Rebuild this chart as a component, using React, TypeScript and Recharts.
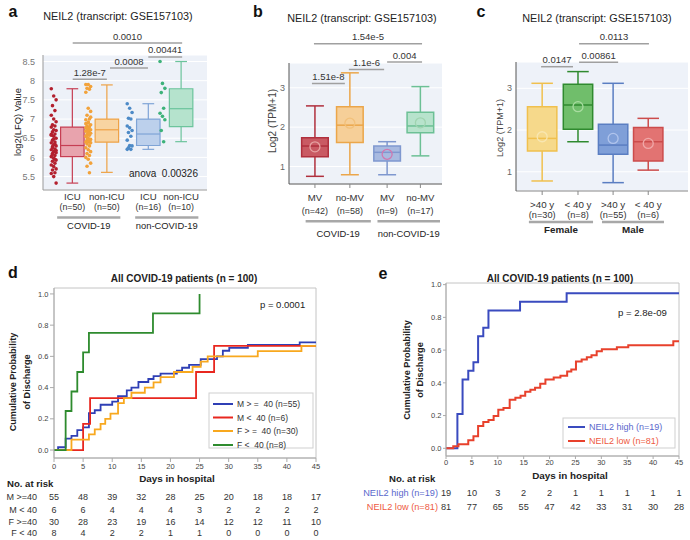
import React from 'react';
import {
  ComposedChart, LineChart, Line, Scatter, XAxis, YAxis, CartesianGrid,
  ReferenceLine, ReferenceArea,
} from 'recharts';

const FONT = '"Liberation Sans", Arial, Helvetica, sans-serif';

// ---------------- Panel a data ----------------
const aLabels = ['ICU', 'non-ICU', 'ICU', 'non-ICU'];
const aCounts = ['(n=50)', '(n=50)', '(n=16)', '(n=10)'];
const aGroups = ['COVID-19', 'non-COVID-19'];
// [min, q1, median, q3, max]
const aStats = [
  [5.33, 6.02, 6.31, 6.79, 7.79],
  [5.61, 6.4, 6.72, 7.0, 7.89],
  [6.21, 6.31, 6.61, 7.0, 7.4],
  [6.41, 6.8, 7.27, 7.79, 8.5],
];
const aCovidIcu = [7.79, 7.6, 7.5, 7.35, 7.22, 7.1, 7.0, 6.93, 6.85, 6.82, 6.79, 6.72, 6.7, 6.67, 6.61, 6.58, 6.55, 6.5, 6.45, 6.4, 6.38, 6.33, 6.3, 6.28, 6.22, 6.2, 6.15, 6.12, 6.1, 6.05, 6.02, 5.98, 5.93, 5.9, 5.85, 5.8, 5.76, 5.7, 5.67, 5.6, 5.58, 5.5, 5.33, 6.25, 6.35, 6.6, 6.48, 6.18, 6.08, 5.95];
const aCovidNonIcu = [7.9, 7.9, 7.85, 7.8, 7.78, 7.7, 7.28, 7.2, 7.1, 7.0, 6.98, 6.9, 6.85, 6.82, 6.8, 6.77, 6.75, 6.72, 6.7, 6.7, 6.68, 6.65, 6.63, 6.6, 6.58, 6.55, 6.5, 6.47, 6.45, 6.42, 6.4, 6.4, 6.38, 6.35, 6.3, 6.25, 6.2, 6.15, 6.1, 6.05, 6.0, 5.95, 5.85, 5.77, 5.6, 6.88, 6.92, 7.05, 6.52, 6.62];
const aNonCovidIcu = [7.4, 7.28, 7.17, 7.02, 7.0, 6.82, 6.77, 6.7, 6.65, 6.55, 6.45, 6.31, 6.3, 6.25, 6.21, 6.21];
const aNonCovidNonIcu = [8.5, 7.93, 7.8, 7.69, 7.28, 7.15, 7.07, 6.98, 6.7, 6.41];
const aBracketText = ['1.28e-7', '0.0008', '0.00441', '0.0010'];

// ---------------- Panel b data ----------------
const bLabels = ['MV', 'no-MV', 'MV', 'no-MV'];
const bCounts = ['(n=42)', '(n=58)', '(n=9)', '(n=17)'];
const bGroups = ['COVID-19', 'non-COVID-19'];
const bStats = [
  [0.75, 1.25, 1.52, 1.73, 2.54],
  [0.79, 1.61, 2.05, 2.52, 3.38],
  [0.79, 1.14, 1.36, 1.52, 1.63],
  [1.27, 1.86, 2.03, 2.38, 3.03],
];
const bMeans = [1.5, 2.1, 1.31, 2.11];
const bBracketText = ['1.51e-8', '1.1e-6', '0.004', '1.54e-5'];

// ---------------- Panel c data ----------------
const cLabels = ['>40 y', '< 40 y', '>40 y', '< 40 y'];
const cCounts = ['(n=30)', '(n=8)', '(n=55)', '(n=6)'];
const cGroups = ['Female', 'Male'];
const cStats = [
  [0.78, 1.5, 1.8, 2.56, 3.12],
  [1.72, 2.02, 2.6, 3.1, 3.4],
  [0.74, 1.42, 1.64, 2.14, 3.12],
  [1.04, 1.26, 1.72, 2.06, 2.28],
];
const cMeans = [1.84, 2.56, 1.8, 1.68];
const cBracketText = ['0.0147', '0.00861', '0.0113'];

// ---------------- Panel d data ----------------
const dNames = ['M > =  40 (n=55)', 'M <  40 (n=6)', 'F > =  40 (n=30)', 'F <  40 (n=8)'];
const dColors = ['#2f3fb5', '#e8271f', '#f8a81e', '#2e8b2e'];
const dMge40 = [
  [0, 0], [0.7, 0.018], [2, 0.073], [3, 0.091], [4, 0.127], [5, 0.145], [6, 0.236], [7, 0.255], [8, 0.29],
  [10, 0.31], [11, 0.345], [12.5, 0.382], [13.3, 0.4], [14.5, 0.436], [16.2, 0.455], [17.1, 0.473], [18.3, 0.49],
  [21.1, 0.509], [22, 0.527], [23.2, 0.545], [25.2, 0.582], [28, 0.6], [29, 0.636], [30.1, 0.655], [33.3, 0.673],
  [42.2, 0.69], [45, 0.69],
];
const dMlt40 = [[0, 0], [5, 0.167], [6.2, 0.333], [24.4, 0.5], [27.5, 0.667], [45, 0.667]];
const dFge40 = [
  [0, 0], [3, 0.067], [6, 0.1], [7, 0.133], [8, 0.167], [8.8, 0.2], [9.7, 0.233], [11, 0.3], [12, 0.333],
  [13.3, 0.367], [15.6, 0.4], [17.1, 0.433], [18.3, 0.467], [20.6, 0.5], [23.8, 0.533], [25.2, 0.567],
  [26.4, 0.6], [35, 0.633], [42.5, 0.667], [45, 0.667],
];
const dFlt40 = [[0, 0], [2, 0.25], [3, 0.375], [4, 0.5], [5, 0.625], [6, 0.75], [17, 0.875], [25, 1.0]];
const dRiskLabels = ['M >=40', 'M < 40', 'F >=40', 'F < 40'];
const dRisk = [
  [55, 48, 39, 32, 28, 25, 20, 18, 18, 17],
  [6, 6, 4, 4, 4, 3, 2, 2, 2, 2],
  [30, 28, 23, 19, 16, 14, 12, 12, 11, 10],
  [8, 4, 2, 2, 1, 1, 0, 0, 0, 0],
];

// ---------------- Panel e data ----------------
const eNames = ['NEIL2 high (n=19)', 'NEIL2 low (n=81)'];
const eColors = ['#3a4bbf', '#e8412c'];
const eTextColors = ['#5a68cc', '#ee5a42'];
const eHigh = [[0, 0], [2.2, 0.21], [3.2, 0.42], [4.3, 0.474], [5.3, 0.526], [6.2, 0.684], [7.2, 0.737], [8.2, 0.842], [14.3, 0.895], [23.3, 0.947], [45, 0.947]];
const eLow = [
  [0, 0], [1.4, 0.012], [2.4, 0.025], [4.3, 0.049], [5.3, 0.074], [6.2, 0.136], [7.2, 0.16], [8.2, 0.173],
  [9.2, 0.198], [10.1, 0.235], [11.1, 0.247], [12.3, 0.296], [13.4, 0.309], [14.4, 0.321], [15.3, 0.346],
  [16.3, 0.358], [17.2, 0.37], [18.2, 0.395], [19.2, 0.42], [20.8, 0.432], [22.1, 0.444], [23.4, 0.469],
  [24.2, 0.481], [25.1, 0.531], [26.2, 0.543], [27.2, 0.556], [28.1, 0.568], [29.1, 0.593], [30.1, 0.605],
  [33, 0.617], [35.2, 0.63], [43.9, 0.654], [45, 0.654],
];
const eRisk = [
  [19, 10, 3, 2, 2, 1, 1, 1, 1, 1],
  [81, 77, 65, 55, 47, 42, 33, 31, 30, 28],
];
const dayTicks = [0, 5, 10, 15, 20, 25, 30, 35, 40, 45];
const probTicks = [0, 0.2, 0.4, 0.6, 0.8, 1.0];

// ---------------- styles / layout ----------------
const aStyle = [
  { fill: '#e8a3ad', stroke: '#c63e53', dot: '#b3202e' },
  { fill: '#f8d4a2', stroke: '#eea246', dot: '#f2a23a' },
  { fill: '#bcd0ec', stroke: '#7fa4d6', dot: '#4d8ac7' },
  { fill: '#b5e3cd', stroke: '#6cc49c', dot: '#3db27a' },
];
const bStyle = [
  { fill: '#c95a63', stroke: '#b0303d', mean: '#e6a2a2' },
  { fill: '#f6cf98', stroke: '#eba64a', mean: '#f2c07a' },
  { fill: '#a8bae0', stroke: '#7f98cf', mean: '#cf78b0' },
  { fill: '#b7e3cc', stroke: '#6cc095', mean: '#9fd4b0' },
];
const cStyle = [
  { fill: '#f6d98b', stroke: '#f0c04e', mean: '#f8e6b0' },
  { fill: '#70be6b', stroke: '#2f8a2f', mean: '#a8dca0' },
  { fill: '#7f9fd8', stroke: '#5a7ec2', mean: '#b0c4ec' },
  { fill: '#e27372', stroke: '#cc4c4c', mean: '#f0a8a8' },
];

const aPos = [0.85, 1.85, 3.05, 4.0];
const bPos = [0.78, 1.83, 2.95, 3.95];
const cPos = [0.73, 1.73, 2.71, 3.69];

const jitter = [-0.07, 0.0, 0.07, -0.035, 0.035];
const strip = (vals: number[], pos: number) => vals.map((v, i) => ({ x: pos - 0.54 + jitter[i % 5], y: v }));

function boxElements(id: string, pos: number, s: number[], half: number, cap: number, fill: string, stroke: string, sw: number) {
  const [mn, q1, md, q3, mx] = s;
  const common = { stroke, strokeWidth: sw, ifOverflow: 'visible' as const };
  return [
    <ReferenceLine key={id + 'w1'} segment={[{ x: pos, y: q3 }, { x: pos, y: mx }]} {...common} />,
    <ReferenceLine key={id + 'w2'} segment={[{ x: pos, y: mn }, { x: pos, y: q1 }]} {...common} />,
    <ReferenceLine key={id + 'c1'} segment={[{ x: pos - cap, y: mx }, { x: pos + cap, y: mx }]} {...common} />,
    <ReferenceLine key={id + 'c2'} segment={[{ x: pos - cap, y: mn }, { x: pos + cap, y: mn }]} {...common} />,
    <ReferenceArea key={id + 'b'} x1={pos - half} x2={pos + half} y1={q1} y2={q3} fill={fill} fillOpacity={1} stroke={stroke} strokeWidth={sw} ifOverflow="visible" />,
    <ReferenceLine key={id + 'm'} segment={[{ x: pos - half, y: md }, { x: pos + half, y: md }]} {...common} />,
  ];
}

function bracket(id: string, x1: number, x2: number, y: number, text: string) {
  return (
    <ReferenceLine
      key={id}
      segment={[{ x: x1, y }, { x: x2, y }]}
      stroke="#a0a0a0"
      strokeWidth={1.5}
      ifOverflow="visible"
      label={{ value: text, position: 'top', offset: 3.5, fontSize: 9.5, fill: '#333' }}
    />
  );
}

function groupLine(id: string, x1: number, x2: number, y: number, text: string, offset: number, bold: boolean) {
  return (
    <ReferenceLine
      key={id}
      segment={[{ x: x1, y }, { x: x2, y }]}
      stroke="#a8a8a8"
      strokeWidth={2.5}
      ifOverflow="visible"
      label={{ value: text, position: 'bottom', offset, fontSize: bold ? 9.8 : 9.4, fill: '#222', fontWeight: bold ? 'bold' : 'normal' }}
    />
  );
}

const BoxTick = (props: any) => {
  const { x, y, index, labels, counts, base, d1, d2, fs1, fs2 } = props;
  const y0 = y - base;
  return (
    <g>
      <text x={x} y={y0 + d1} textAnchor="middle" dominantBaseline="central" fontSize={fs1} fill="#333">{labels[index]}</text>
      <text x={x} y={y0 + d2} textAnchor="middle" dominantBaseline="central" fontSize={fs2} fill="#333">{counts[index]}</text>
    </g>
  );
};

const RiskTick = (props: any) => {
  const { x, y, index, rows, rowY, labels, labelColors, labelGap, fs } = props;
  return (
    <g>
      {rows.map((r: number[], k: number) => (
        <text key={k} x={x} y={y + rowY[k]} textAnchor="middle" dominantBaseline="central" fontSize={fs} fill="#333">{r[index]}</text>
      ))}
      {index === 0 && labels.map((l: string, k: number) => (
        <text key={'l' + k} x={x - labelGap} y={y + rowY[k]} textAnchor="end" dominantBaseline="central" fontSize={fs} fill={labelColors[k]}>{l}</text>
      ))}
    </g>
  );
};

const meanShape = (color: string) => (p: any) => (
  <circle cx={p.cx} cy={p.cy} r={5} fill="none" stroke={color} strokeWidth={1.3} />
);
const dotShape = (color: string) => (p: any) => <circle cx={p.cx} cy={p.cy} r={1.8} fill={color} />;

const toPts = (arr: number[][]) => arr.map(([day, p]) => ({ day, p }));

function PanelA() {
  return (
    <ComposedChart width={230} height={250} margin={{ top: 55, right: 23, left: 0, bottom: 0 }}>
      <CartesianGrid vertical={false} stroke="#ffffff" fill="#edf1f8" fillOpacity={1} />
      <XAxis type="number" dataKey="x" domain={[0, 4.75]} allowDataOverflow ticks={aPos} interval={0} height={60}
        tickLine={false} tickSize={0} tickMargin={0} axisLine={{ stroke: '#999' }}
        tick={<BoxTick labels={aLabels} counts={aCounts} base={0} d1={6.7} d2={17.3} fs1={9.6} fs2={8.8} />} />
      <YAxis type="number" dataKey="y" domain={[5.15, 8.67]} allowDataOverflow ticks={[5.5, 6, 6.5, 7, 7.5, 8, 8.5]}
        interval={0} width={43} tickLine={false} axisLine={{ stroke: '#999' }} tick={{ fontSize: 9, fill: '#777' }} />
      {aStats.map((s, i) => boxElements('a' + i, aPos[i], s, 0.34, 0.17, aStyle[i].fill, aStyle[i].stroke, 1.2))}
      <Scatter data={strip(aCovidIcu, aPos[0])} shape={dotShape(aStyle[0].dot)} isAnimationActive={false} />
      <Scatter data={strip(aCovidNonIcu, aPos[1])} shape={dotShape(aStyle[1].dot)} isAnimationActive={false} />
      <Scatter data={strip(aNonCovidIcu, aPos[2])} shape={dotShape(aStyle[2].dot)} isAnimationActive={false} />
      <Scatter data={strip(aNonCovidNonIcu, aPos[3])} shape={dotShape(aStyle[3].dot)} isAnimationActive={false} />
      {bracket('ab0', 0.86, 1.85, 8.04, aBracketText[0])}
      {bracket('ab1', 1.94, 3.04, 8.33, aBracketText[1])}
      {bracket('ab2', 3.05, 4.03, 8.62, aBracketText[2])}
      {bracket('ab3', 0.86, 4.03, 8.98, aBracketText[3])}
      {groupLine('ag0', 0.41, 2.24, 4.43, aGroups[0], 5, false)}
      {groupLine('ag1', 2.67, 4.5, 4.43, aGroups[1], 5, false)}
    </ComposedChart>
  );
}

function PanelB() {
  return (
    <ComposedChart width={230} height={250} margin={{ top: 63, right: 13, left: 0, bottom: 0 }}>
      <CartesianGrid vertical={false} stroke="#ffffff" fill="#eef2f8" fillOpacity={1} />
      <XAxis type="number" dataKey="x" domain={[0, 4.6]} allowDataOverflow ticks={bPos} interval={0} height={66}
        tickSize={4} tickMargin={0} tickLine={{ stroke: '#888' }} axisLine={{ stroke: '#555' }}
        tick={<BoxTick labels={bLabels} counts={bCounts} base={4} d1={13} d2={26.5} fs1={9.6} fs2={9} />} />
      <YAxis type="number" dataKey="y" domain={[0.555, 3.63]} allowDataOverflow ticks={[1, 2, 3]} interval={0}
        width={64} tickLine={false} tickSize={0} tickMargin={4} axisLine={{ stroke: '#555' }} tick={{ fontSize: 9, fill: '#666' }} />
      {bStats.map((s, i) => boxElements('b' + i, bPos[i], s, 0.4, 0.27, bStyle[i].fill, bStyle[i].stroke, 1.5))}
      {bMeans.map((m, i) => (
        <Scatter key={'bm' + i} data={[{ x: bPos[i], y: m }]} shape={meanShape(bStyle[i].mean)} isAnimationActive={false} />
      ))}
      {bracket('bb0', 0.69, 1.68, 3.109, bBracketText[0])}
      {bracket('bb1', 1.8, 2.86, 3.463, bBracketText[1])}
      {bracket('bb2', 2.95, 4.0, 3.655, bBracketText[2])}
      {bracket('bb3', 0.75, 4.0, 4.12, bBracketText[3])}
      {groupLine('bg0', 0.5, 2.46, -0.391, bGroups[0], 9.5, false)}
      {groupLine('bg1', 2.66, 4.54, -0.391, bGroups[1], 9.5, false)}
    </ComposedChart>
  );
}

function PanelC() {
  return (
    <ComposedChart width={235} height={250} margin={{ top: 62, right: 2, left: 0, bottom: 0 }}>
      <CartesianGrid vertical={false} stroke="#ffffff" fill="#eef2f9" fillOpacity={1} />
      <XAxis type="number" dataKey="x" domain={[0, 4.8]} allowDataOverflow ticks={cPos} interval={0} height={59}
        tickSize={4} tickMargin={0} tickLine={{ stroke: '#888' }} axisLine={{ stroke: '#888' }}
        tick={<BoxTick labels={cLabels} counts={cCounts} base={4} d1={13} d2={24} fs1={9.8} fs2={9.2} />} />
      <YAxis type="number" dataKey="y" domain={[0.54, 3.63]} allowDataOverflow ticks={[1, 2, 3]} interval={0}
        width={61} tickLine={false} tickSize={0} tickMargin={4} axisLine={{ stroke: '#555' }} tick={{ fontSize: 9, fill: '#666' }} />
      {cStats.map((s, i) => boxElements('c' + i, cPos[i], s, 0.41, 0.3, cStyle[i].fill, cStyle[i].stroke, 1.5))}
      {cMeans.map((m, i) => (
        <Scatter key={'cm' + i} data={[{ x: cPos[i], y: m }]} shape={meanShape(cStyle[i].mean)} isAnimationActive={false} />
      ))}
      {bracket('cb0', 0.7, 1.59, 3.517, cBracketText[0])}
      {bracket('cb1', 1.76, 2.85, 3.623, cBracketText[1])}
      {bracket('cb2', 1.76, 3.71, 4.068, cBracketText[2])}
      {groupLine('cg0', 0.36, 2.15, -0.2025, cGroups[0], 4.5, true)}
      {groupLine('cg1', 2.4, 4.13, -0.2025, cGroups[1], 4.5, true)}
    </ComposedChart>
  );
}

function PanelD() {
  const series = [dMge40, dMlt40, dFge40, dFlt40];
  return (
    <LineChart width={340} height={285} margin={{ top: 33, right: 24, left: 0, bottom: 0 }}>
      <XAxis type="number" dataKey="day" domain={[0, 45]} allowDataOverflow ticks={dayTicks} interval={0} height={22}
        tickSize={4} tickMargin={2} tick={{ fontSize: 7.5, fill: '#444' }} stroke="#aaa" />
      <XAxis xAxisId="risk" type="number" dataKey="day" domain={[0, 45]} allowDataOverflow ticks={dayTicks} interval={0}
        height={60} axisLine={false} tickLine={false} tickSize={0} tickMargin={0}
        tick={<RiskTick rows={dRisk} rowY={[17, 30, 41.5, 52.5]} labels={dRiskLabels} labelColors={['#333', '#333', '#333', '#333']} labelGap={17} fs={9} />} />
      <YAxis type="number" domain={[-0.051, 1.038]} allowDataOverflow ticks={probTicks} interval={0} width={54}
        tickSize={4} tickMargin={1.5} tickFormatter={(v: number) => v.toFixed(1)} tick={{ fontSize: 7.5, fill: '#444' }} stroke="#aaa" />
      <ReferenceArea x1={0} x2={45} y1={-0.051} y2={1.038} fill="none" stroke="#c4c4c4" strokeWidth={1} />
      {series.map((s, i) => (
        <Line key={'d' + i} data={toPts(s)} dataKey="p" type="stepAfter" stroke={dColors[i]} strokeWidth={1.8}
          dot={false} isAnimationActive={false} />
      ))}
      <Line xAxisId="risk" data={[{ day: 0, p: 0 }, { day: 45, p: 0 }]} dataKey="p" stroke="none" dot={false} isAnimationActive={false} />
    </LineChart>
  );
}

function PanelE() {
  const series = [eHigh, eLow];
  return (
    <LineChart width={350} height={285} margin={{ top: 28, right: 11, left: 0, bottom: 0 }}>
      <XAxis type="number" dataKey="day" domain={[0, 45]} allowDataOverflow ticks={dayTicks} interval={0} height={20}
        tickSize={3} tickMargin={1} tick={{ fontSize: 7.5, fill: '#444' }} stroke="#aaa" />
      <XAxis xAxisId="risk" type="number" dataKey="day" domain={[0, 45]} allowDataOverflow ticks={dayTicks} interval={0}
        height={64} axisLine={false} tickLine={false} tickSize={0} tickMargin={0}
        tick={<RiskTick rows={eRisk} rowY={[16.5, 30.5]} labels={eNames} labelColors={eTextColors} labelGap={8} fs={9.2} />} />
      <YAxis type="number" domain={[-0.047, 1.01]} allowDataOverflow ticks={probTicks} interval={0} width={106}
        tickSize={3} tickMargin={1.5} tickFormatter={(v: number) => v.toFixed(1)} tick={{ fontSize: 7.5, fill: '#444' }} stroke="#aaa" />
      <ReferenceArea x1={0} x2={45} y1={-0.047} y2={1.01} fill="none" stroke="#c4c4c4" strokeWidth={1} />
      {series.map((s, i) => (
        <Line key={'e' + i} data={toPts(s)} dataKey="p" type="stepAfter" stroke={eColors[i]} strokeWidth={2}
          dot={false} isAnimationActive={false} />
      ))}
      <Line xAxisId="risk" data={[{ day: 0, p: 0 }, { day: 45, p: 0 }]} dataKey="p" stroke="none" dot={false} isAnimationActive={false} />
    </LineChart>
  );
}

const T = (p: any) => {
  const { x, y, size = 10, weight = 'normal', anchor = 'middle', fill = '#222', rotate = false, children } = p;
  return (
    <text x={x} y={y} fontSize={size} fontWeight={weight} textAnchor={anchor} dominantBaseline="central" fill={fill}
      transform={rotate ? `rotate(-90 ${x} ${y})` : undefined} style={{ whiteSpace: 'pre' }}>{children}</text>
  );
};

function Overlay() {
  const title = 'NEIL2 (transcript: GSE157103)';
  const dRows = [404, 417.5, 431, 445];
  const eRows = [427, 441];
  return (
    <svg width={690} height={540} style={{ position: 'absolute', left: 0, top: 0, pointerEvents: 'none' }}>
      <T x={13} y={11} size={16} weight="bold" fill="#111">a</T>
      <T x={258} y={11} size={16} weight="bold" fill="#111">b</T>
      <T x={481} y={11} size={16} weight="bold" fill="#111">c</T>
      <T x={118} y={16} size={10.8}>{title}</T>
      <T x={362} y={18.3} size={10.8}>{title}</T>
      <T x={597} y={17.7} size={10.8}>{title}</T>
      <T x={17} y={122} size={9.4} rotate>log2(LFQ) Value</T>
      <T x={272} y={121} size={10} fill="#444" rotate>Log2 (TPM+1)</T>
      <T x={500} y={128} size={9} fill="#444" rotate>Log2 (TPM+1)</T>
      <T x={163.5} y={173} size={10}>anova  0.00326</T>

      <T x={13} y={272} size={16} weight="bold" fill="#111">d</T>
      <T x={184} y={278.6} size={10} weight="bold">All COVID-19 patients (n = 100)</T>
      <T x={260} y={304} size={9.5} anchor="start">p = 0.0001</T>
      <T x={13} y={382} size={9.1} weight="bold" rotate>Cumulative Probability</T>
      <T x={27} y={382} size={9.1} weight="bold" rotate>of Discharge</T>
      <T x={177} y={478} size={9.9} weight="bold">Days in hospital</T>
      <T x={7} y={483} size={9.6} weight="bold" anchor="start">No. at risk</T>
      <rect x={209} y={393} width={104} height={55} fill="#fff" stroke="#cfcfcf" strokeWidth={1} />
      {dNames.map((n, i) => (
        <g key={'dl' + i}>
          <line x1={213} x2={233} y1={dRows[i]} y2={dRows[i]} stroke={dColors[i]} strokeWidth={2} />
          <T x={237} y={dRows[i]} size={8.5} anchor="start" fill="#333">{n}</T>
        </g>
      ))}

      <T x={383} y={273} size={16} weight="bold" fill="#111">e</T>
      <T x={560} y={278} size={10} weight="bold">All COVID-19 patients (n = 100)</T>
      <T x={618} y={312} size={9.6} anchor="start">p = 2.8e-09</T>
      <T x={407} y={370} size={9.2} weight="bold" rotate>Cumulative Probability</T>
      <T x={420} y={370} size={9.2} weight="bold" rotate>of Discharge</T>
      <T x={570} y={475} size={9.9} weight="bold">Days in hospital</T>
      <T x={389} y={478} size={9.6} weight="bold" anchor="start">No. at risk</T>
      <rect x={563} y={418} width={112} height={30} fill="#fff" stroke="#cfcfcf" strokeWidth={1} />
      {eNames.map((n, i) => (
        <g key={'el' + i}>
          <line x1={568} x2={585} y1={eRows[i]} y2={eRows[i]} stroke={eColors[i]} strokeWidth={2} />
          <T x={589} y={eRows[i]} size={9} anchor="start" fill={eTextColors[i]}>{n}</T>
        </g>
      ))}
    </svg>
  );
}

export default function App() {
  return (
    <div style={{ position: 'absolute', left: 0, top: 0, width: 690, height: 540, background: '#fff', fontFamily: FONT, overflow: 'hidden' }}>
      <div style={{ position: 'absolute', left: 0, top: 0 }}><PanelA /></div>
      <div style={{ position: 'absolute', left: 225, top: 0 }}><PanelB /></div>
      <div style={{ position: 'absolute', left: 455, top: 0 }}><PanelC /></div>
      <div style={{ position: 'absolute', left: 0, top: 255 }}><PanelD /></div>
      <div style={{ position: 'absolute', left: 340, top: 255 }}><PanelE /></div>
      <Overlay />
    </div>
  );
}
